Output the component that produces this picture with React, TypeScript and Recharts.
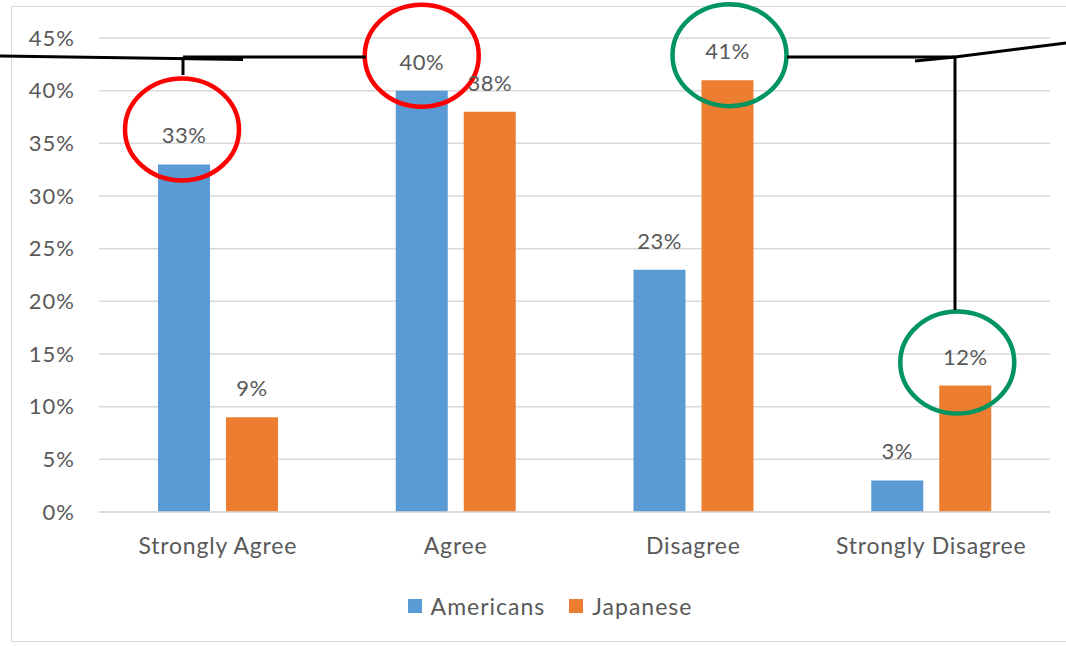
import { BarChart, Bar, XAxis, YAxis, CartesianGrid, Legend, LabelList } from 'recharts';

const categories = ['Strongly Agree', 'Agree', 'Disagree', 'Strongly Disagree'];
const americans = [33, 40, 23, 3];
const japanese = [9, 38, 41, 12];
const yTicks = [0, 5, 10, 15, 20, 25, 30, 35, 40, 45];

// hand-drawn marks on the screenshot: which label gets circled
const circled = [
    { series: 'Americans', index: 0, color: '#ff0000', dx: -2, dy: -14 },
    { series: 'Americans', index: 1, color: '#ff0000', dx: 0, dy: -14 },
    { series: 'Japanese', index: 2, color: '#00945f', dx: 2, dy: -4 },
    { series: 'Japanese', index: 3, color: '#00945f', dx: -8, dy: -2 },
];

const data = categories.map((name, i) => ({ name, Americans: americans[i], Japanese: japanese[i] }));

const BLUE = '#5b9bd5';
const ORANGE = '#ed7d31';
const TEXT = '#595959';
const GRID = '#d9d9d9';
const FONT = 'Lato, "Open Sans", sans-serif';

function makeLabel(series: string) {
    return (props: any) => {
        const { x, y, width, value, index } = props;
        const cx = x + width / 2;
        const ty = y - 21;
        const mark = circled.find((c) => c.series === series && c.index === index);
        return (
            <g>
                <text x={cx} y={ty} textAnchor="middle" fill={TEXT} fontSize={22} letterSpacing={0.5} fontFamily={FONT}>
                    {`${value}%`}
                </text>
                {mark && (
                    <ellipse
                        cx={cx + mark.dx}
                        cy={ty + mark.dy}
                        rx={57}
                        ry={51}
                        fill="none"
                        stroke={mark.color}
                        strokeWidth={4.5}
                    />
                )}
            </g>
        );
    };
}

function LegendContent() {
    const items = [
        { label: 'Americans', color: BLUE },
        { label: 'Japanese', color: ORANGE },
    ];
    return (
        <div style={{ display: 'flex', justifyContent: 'center', gap: 24, paddingTop: 8, paddingLeft: 50 }}>
            {items.map((it) => (
                <div key={it.label} style={{ display: 'flex', alignItems: 'center', gap: 9 }}>
                    <span style={{ width: 14, height: 14, background: it.color, display: 'inline-block' }} />
                    <span style={{ color: TEXT, fontSize: 23, letterSpacing: 1, fontFamily: FONT }}>{it.label}</span>
                </div>
            ))}
        </div>
    );
}

export default function App() {
    return (
        <div style={{ position: 'absolute', left: 0, top: 0, width: 1066, height: 646, background: '#fff', overflow: 'hidden' }}>
            <div style={{ position: 'absolute', left: 11, top: 6, width: 1080, height: 634, border: `1px solid ${GRID}` }} />
            <BarChart
                width={1066}
                height={646}
                data={data}
                margin={{ top: 38, right: 16, bottom: 20, left: 0 }}
                barGap={16}
                barSize={52}
                style={{ position: 'absolute', left: 0, top: 0 }}
            >
                <CartesianGrid vertical={false} stroke={GRID} strokeWidth={1.5} />
                <XAxis
                    dataKey="name"
                    height={72}
                    axisLine={{ stroke: GRID, strokeWidth: 1.5 }}
                    tickLine={false}
                    tickMargin={20}
                    tick={{ fill: TEXT, fontSize: 23, letterSpacing: 0.8, fontFamily: FONT }}
                />
                <YAxis
                    width={99}
                    domain={[0, 45]}
                    ticks={yTicks}
                    axisLine={false}
                    tickLine={false}
                    tickMargin={18}
                    tickFormatter={(v) => `${v}%`}
                    tick={{ fill: TEXT, fontSize: 22, letterSpacing: 1, fontFamily: FONT }}
                />
                <Legend verticalAlign="bottom" height={42} content={<LegendContent />} />
                <Bar dataKey="Americans" fill={BLUE} isAnimationActive={false}>
                    <LabelList dataKey="Americans" content={makeLabel('Americans')} />
                </Bar>
                <Bar dataKey="Japanese" fill={ORANGE} isAnimationActive={false}>
                    <LabelList dataKey="Japanese" content={makeLabel('Japanese')} />
                </Bar>
            </BarChart>
            {/* black connector lines drawn over the screenshot */}
            <svg width={1066} height={646} style={{ position: 'absolute', left: 0, top: 0, pointerEvents: 'none' }}>
                <g stroke="#000" strokeWidth={3} fill="none">
                    <line x1={0} y1={56} x2={243} y2={59.5} />
                    <line x1={183} y1={57} x2={366} y2={57} />
                    <line x1={183} y1={57} x2={183} y2={75} />
                    <line x1={787} y1={57} x2={955} y2={57} />
                    <line x1={915} y1={61} x2={955} y2={57} />
                    <line x1={955} y1={57} x2={1066} y2={43} />
                    <line x1={955} y1={57} x2={955} y2={310} />
                </g>
            </svg>
        </div>
    );
}
